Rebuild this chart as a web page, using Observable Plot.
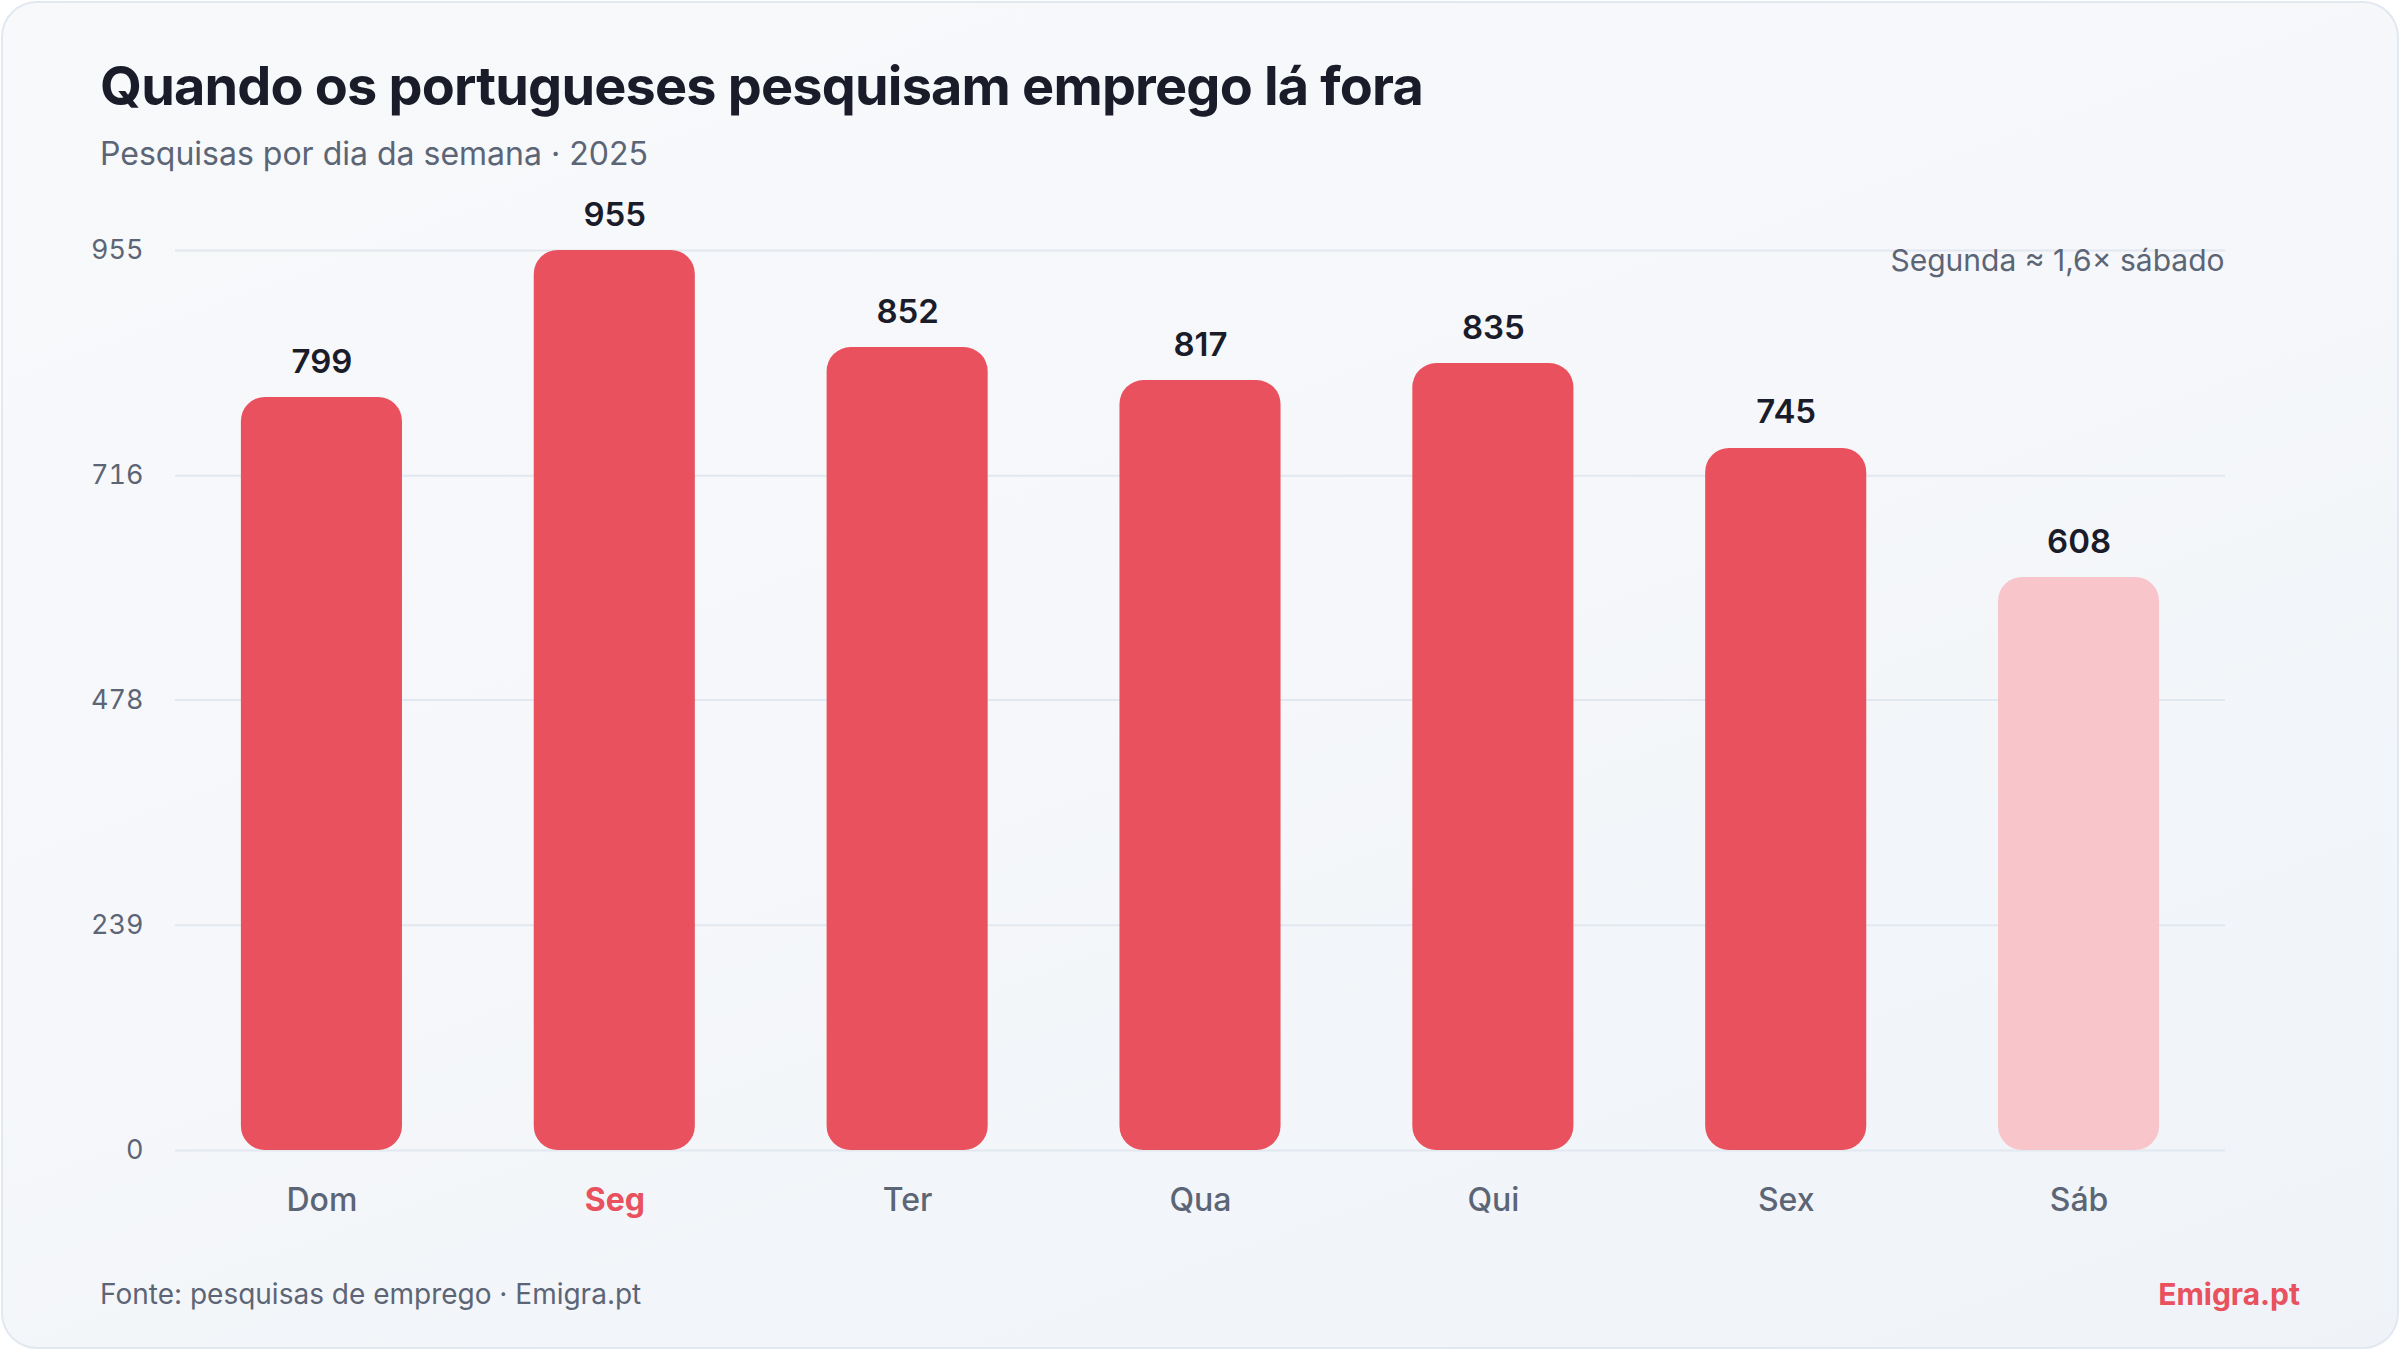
<!DOCTYPE html>
<html lang="pt">
<head>
<meta charset="utf-8">
<script src="https://cdn.jsdelivr.net/npm/d3@7"></script>
<script src="https://cdn.jsdelivr.net/npm/@observablehq/plot@0.6"></script>
<style>
  html, body { margin: 0; padding: 0; width: 2400px; height: 1350px; overflow: hidden; background: #ffffff; }
  body { font-family: Inter, "Noto Sans", sans-serif; }
  .card {
    position: absolute; left: 1px; top: 1px; width: 2394px; height: 1344px;
    border: 2px solid #e2e8f0; border-radius: 36px;
    background: linear-gradient(160deg, #f8f9fb 0%, #f5f7fa 50%, #eff3f8 100%);
  }
  .title {
    position: absolute; left: 100px; top: 59px; margin: 0;
    font-size: 54px; font-weight: 700; letter-spacing: -0.015em; color: #1a1c29; line-height: 1;
    white-space: nowrap;
  }
  .subtitle {
    position: absolute; left: 100px; top: 138px; margin: 0;
    font-size: 32px; font-weight: 400; color: #5c6575; line-height: 1; white-space: nowrap;
  }
  #chart { position: absolute; left: 0; top: 190px; }
  .source {
    position: absolute; left: 100px; top: 1280px; font-size: 28px; color: #5c6575; line-height: 1; white-space: nowrap;
  }
  .brand {
    position: absolute; right: 100px; top: 1279px; font-size: 30px; font-weight: 700; color: #e8515d; line-height: 1; white-space: nowrap;
  }
</style>
</head>
<body>
<div class="card"></div>
<h1 class="title">Quando os portugueses pesquisam emprego lá fora</h1>
<div class="subtitle">Pesquisas por dia da semana · 2025</div>
<div id="chart"></div>
<div class="source">Fonte: pesquisas de emprego · Emigra.pt</div>
<div class="brand">Emigra.pt</div>
<script>
// Weekly search counts, Sunday first
const days = ["Dom", "Seg", "Ter", "Qua", "Qui", "Sex", "Sáb"];
const searches = [799, 955, 852, 817, 835, 745, 608];
const yTicks = [0, 239, 478, 716, 955];
const peakDay = "Seg";
const lowDay = "Sáb";

const red = "#e8515d";
const pale = "#f7c5ca";
const ink = "#1a1c29";
const muted = "#5c6575";

const rows = days.map((day, i) => ({day, value: searches[i]}));
const peak = rows.find(d => d.day === peakDay).value;
const low = rows.find(d => d.day === lowDay).value;
const ratioText = `Segunda ≈ ${(peak / low).toFixed(1).replace(".", ",")}× sábado`;

const dayLabel = (filter, options) => Plot.text(rows, {
  filter, x: "day", text: "day", frameAnchor: "bottom",
  dy: 60, lineAnchor: "bottom", fontSize: 32, ...options
});

const chart = Plot.plot({
  width: 2400,
  height: 1060,
  marginTop: 60,
  marginBottom: 100,
  marginLeft: 175,
  marginRight: 175,
  style: {background: "transparent", fontFamily: "Inter, sans-serif", overflow: "visible"},
  x: {domain: days, paddingInner: 0.45, paddingOuter: 0.225, round: false, axis: null},
  y: {domain: [0, d3.max(searches)], ticks: yTicks, axis: null},
  color: {type: "identity"},
  marks: [
    Plot.gridY(yTicks, {stroke: "#e2e8f0", strokeOpacity: 1, strokeWidth: 2}),
    Plot.axisY(yTicks, {
      tickSize: 0, tickPadding: 32, fontSize: 27, fill: muted, label: null,
      tickFormat: d => String(d)
    }),
    Plot.barY(rows, {
      x: "day", y: "value", rx: 24,
      fill: d => d.day === lowDay ? pale : red
    }),
    Plot.text(rows, {
      x: "day", y: "value", text: d => String(d.value),
      dy: -25, lineAnchor: "bottom", fontSize: 33, fontWeight: 600, fill: ink
    }),
    dayLabel(d => d.day !== peakDay, {fontWeight: 500, fill: muted}),
    dayLabel(d => d.day === peakDay, {fontWeight: 700, fill: red}),
    Plot.text([ratioText], {
      text: d => d, frameAnchor: "top-right", dx: -1, dy: 20,
      lineAnchor: "bottom", textAnchor: "end", fontSize: 30, fill: muted
    })
  ]
});
document.getElementById("chart").appendChild(chart);
</script>
</body>
</html>
